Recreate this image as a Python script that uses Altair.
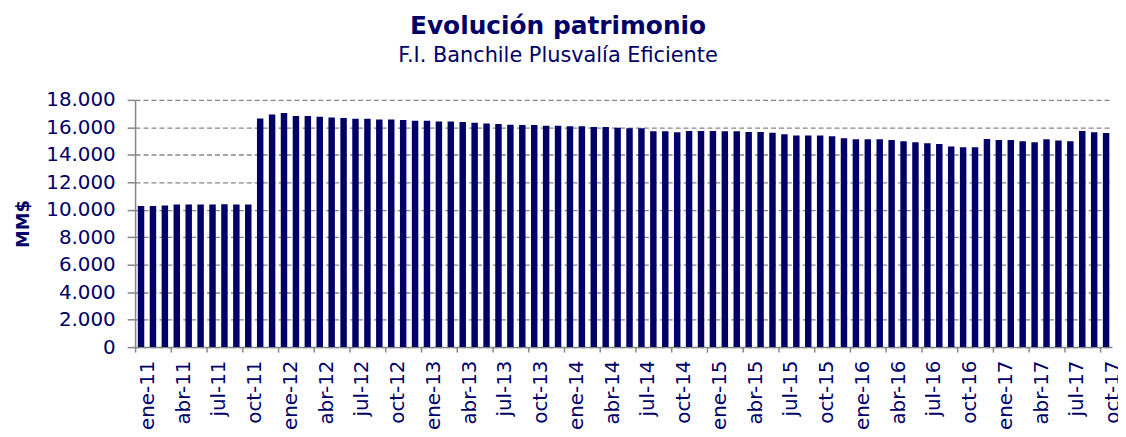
import altair as alt
import pandas as pd

# Categories (monthly, ene-11 .. oct-17)
month_names = ["ene", "feb", "mar", "abr", "may", "jun", "jul", "ago", "sep", "oct", "nov", "dic"]
year_labels = ["11", "12", "13", "14", "15", "16", "17"]
periods = [f"{m}-{y}" for y in year_labels for m in month_names][:82]

# Patrimonio (MM$)
values = [
    10265, 10265, 10313, 10386, 10386, 10386, 10386, 10410, 10386, 10386,
    16651, 16940, 17036, 16819, 16819, 16771, 16723, 16675, 16627, 16627,
    16578, 16578, 16530, 16482, 16482, 16434, 16434, 16386, 16337, 16289,
    16241, 16193, 16169, 16169, 16120, 16120, 16072, 16072, 16024, 16024,
    15976, 15928, 15928, 15711, 15711, 15639, 15735, 15735, 15735, 15711,
    15711, 15663, 15663, 15614, 15494, 15398, 15398, 15398, 15349, 15205,
    15133, 15133, 15133, 15084, 14988, 14916, 14843, 14795, 14602, 14554,
    14554, 15157, 15084, 15084, 14988, 14916, 15133, 15036, 14988, 15735,
    15639, 15590,
]

tick_periods = periods[::3]
y_ticks = [0, 2000, 4000, 6000, 8000, 10000, 12000, 14000, 16000, 18000]

df = pd.DataFrame({"periodo": periods, "valor": values})

navy = "#000066"
grey = "#868686"
font = "DejaVu Sans"

chart = (
    alt.Chart(df)
    .mark_bar(color=navy, size=6.5)
    .encode(
        x=alt.X(
            "periodo:O",
            sort=periods,
            scale=alt.Scale(paddingInner=0, paddingOuter=0),
            axis=alt.Axis(
                values=tick_periods,
                title=None,
                grid=False,
                labelAngle=-90,
                bandPosition=0,
                labelOffset=7,
                labelPadding=8,
                labelOverlap=False,
                labelBound=False,
                labelFont=font,
                labelFontSize=20,
                labelColor=navy,
                tickSize=5,
                tickColor=grey,
                tickWidth=1.5,
                domainColor=grey,
                domainWidth=1.5,
            ),
        ),
        y=alt.Y(
            "valor:Q",
            scale=alt.Scale(domain=[0, 18000], nice=False),
            axis=alt.Axis(
                values=y_ticks,
                labelExpr="replace(format(datum.value, ',d'), ',', '.')",
                title="MM$",
                titleFont=font,
                titleFontSize=18,
                titleFontWeight="bold",
                titleColor=navy,
                titlePadding=13,
                labelFont=font,
                labelFontSize=20,
                labelColor=navy,
                labelPadding=12,
                tickSize=8,
                tickColor=grey,
                tickWidth=1.5,
                domainColor=grey,
                domainWidth=1.5,
                grid=True,
                gridColor=grey,
                gridDash=[5, 3],
                gridWidth=1.3,
            ),
        ),
    )
    .properties(
        width=984,
        height=249,
        autosize=alt.AutoSizeParams(type="none"),
        padding={"left": 128, "top": 91, "right": 6, "bottom": 89},
        title=alt.TitleParams(
            text="Evolución patrimonio",
            subtitle="F.I. Banchile Plusvalía Eficiente",
            font=font,
            fontSize=25,
            fontWeight="bold",
            color=navy,
            subtitleFont=font,
            subtitleFontSize=21,
            subtitleColor=navy,
            subtitlePadding=6,
            anchor="middle",
            dx=-66,
            offset=24,
        ),
    )
    .configure_view(stroke=None)
)

chart.save("out.html", embed_options={"renderer": "svg", "actions": False})
